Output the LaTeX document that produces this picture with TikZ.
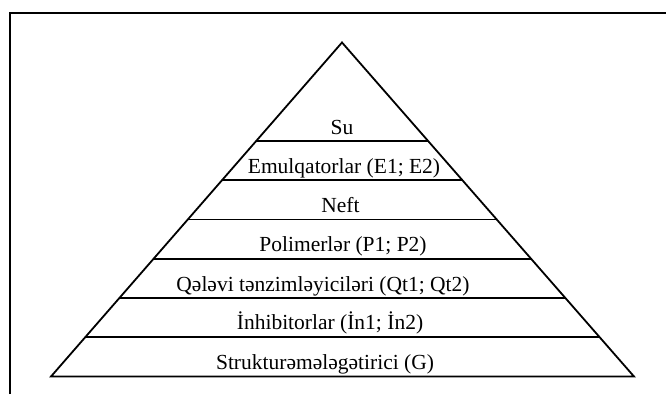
\documentclass[tikz,border=0pt]{standalone}
\usepackage{fontspec}
\setmainfont{Liberation Serif}
\usetikzlibrary{calc}
\begin{document}
\begin{tikzpicture}[x=1pt,y=-1pt,
  edge/.style={line width=1.8pt,line join=miter,black},
  frameline/.style={line width=2pt,black},
  lbl/.style={anchor=base,inner sep=0pt,font=\fontsize{21.5}{25}\selectfont}]
\useasboundingbox (0,0) rectangle (666,394);
% frame (partly cut off)
\draw[frameline] (9.5,394) -- (9.5,12.5) -- (666,12.5);
% pyramid
\coordinate (apex) at (342,42.5);
\coordinate (bl) at (51,376.5);
\coordinate (br) at (634,376.5);
\draw[edge] (bl) -- (apex) -- (br) -- cycle;
\foreach \y [count=\i] in {141,180.25,219.5,258.75,298,337.25}{
  \pgfmathsetmacro{\t}{(\y-42.5)/334}
  \coordinate (l\i) at ($(apex)!\t!(bl)$);
  \coordinate (r\i) at ($(apex)!\t!(br)$);
  \draw[edge] (l\i) -- (r\i);
}
\node[lbl] (su)  at (342,134.5) {Su};
\node[lbl] (em)  at (344,173.5) {Emulqatorlar (E1; E2)};
\node[lbl] (ne)  at (340.5,212.8) {Neft};
\node[lbl] (po)  at (343,251.5) {Polimerlər (P1; P2)};
\node[lbl] (qa)  at (323,291) {Qələvi tənzimləyiciləri (Qt1; Qt2)};
\node[lbl] (in)  at (330,329.5) {İnhibitorlar (İn1; İn2)};
\node[lbl] (st)  at (325,369) {Strukturəmələgətirici (G)};
\end{tikzpicture}
\end{document}
